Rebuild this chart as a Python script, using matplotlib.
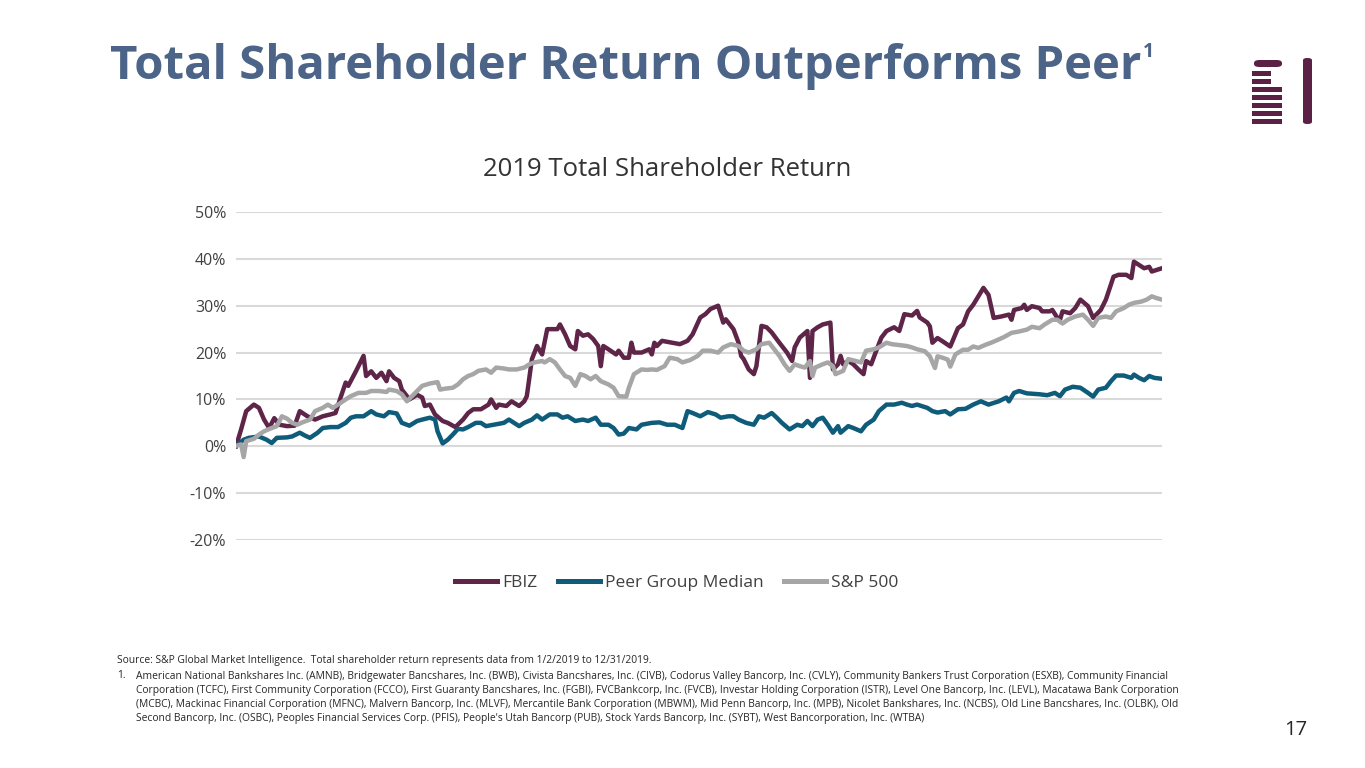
import matplotlib
matplotlib.use('Agg')
import matplotlib.pyplot as plt
from matplotlib.patches import Rectangle, FancyBboxPatch

# day of year (0 = 1/2/2019) and total return in %
fbiz_days = [0, 2, 4, 7, 9, 11, 13, 15, 17, 20, 23, 25, 28, 31, 34, 37, 39, 41, 43, 44,
             47, 50, 51, 53, 55, 57, 59, 60, 62, 64, 65, 68, 71, 73, 74, 76, 78, 81, 83, 86,
             89, 91, 93, 96, 99, 100, 102, 103, 106, 108, 111, 113, 114, 116, 118, 120, 122, 126, 127, 129,
             131, 133, 134, 136, 138, 140, 142, 143, 144, 146, 149, 150, 152, 154, 155, 156, 159, 162, 163, 164,
             165, 167, 171, 174, 177, 179, 182, 184, 186, 189, 191, 192, 195, 197, 198, 199, 201, 203, 204, 206,
             208, 210, 213, 216, 218, 219, 221, 224, 225, 226, 228, 230, 233, 234, 236, 237, 238, 240, 242, 244,
             246, 247, 249, 251, 253, 255, 258, 260, 262, 265, 267, 268, 271, 272, 273, 275, 277, 280, 283, 285,
             287, 289, 291, 293, 295, 297, 300, 303, 304, 305, 308, 309, 310, 312, 315, 316, 319, 320, 322, 323,
             324, 327, 329, 331, 334, 336, 339, 341, 344, 346, 349, 351, 352, 354, 356, 358, 359, 363]
fbiz_vals = [0.0, 3.6, 7.5, 8.9, 8.2, 5.7, 3.9, 6.0, 4.6, 4.3, 4.4, 7.5, 6.4, 5.7, 6.4, 6.8, 7.1, 10.4, 13.6, 12.9,
             16.0, 19.3, 15.0, 16.0, 14.6, 15.7, 13.9, 16.0, 14.6, 13.9, 12.1, 10.0, 11.0, 10.4, 8.6, 8.9, 6.8, 5.4, 5.0, 4.1,
             5.7, 7.1, 7.9, 7.9, 8.9, 10.0, 8.2, 8.9, 8.6, 9.6, 8.6, 9.6, 10.7, 18.6, 21.4, 19.6, 25.0, 25.0, 26.0, 23.9,
             21.4, 20.7, 24.6, 23.6, 23.9, 22.9, 21.4, 17.1, 21.4, 20.7, 19.6, 20.4, 18.9, 18.9, 22.1, 20.0, 20.0, 20.7, 19.6, 22.1,
             21.4, 22.5, 22.1, 21.8, 22.5, 23.9, 27.5, 28.2, 29.3, 30.0, 26.4, 27.1, 25.0, 22.1, 19.3, 18.6, 16.4, 15.4, 17.1, 25.7,
             25.4, 24.3, 22.1, 20.0, 18.2, 21.1, 23.2, 24.6, 14.6, 24.6, 25.4, 26.0, 26.4, 16.4, 17.5, 19.3, 17.5, 18.2, 17.5, 16.4,
             15.4, 18.2, 17.5, 20.4, 23.2, 24.6, 25.4, 24.6, 28.2, 27.9, 28.9, 27.5, 26.4, 25.6, 22.1, 23.1, 22.4, 21.3, 25.2, 26.0,
             28.8, 30.2, 32.0, 33.8, 32.3, 27.4, 27.7, 28.1, 27.0, 29.1, 29.5, 30.2, 29.1, 29.9, 29.5, 28.8, 28.8, 29.1, 27.4, 27.0,
             28.8, 28.4, 29.5, 31.3, 29.9, 27.4, 29.1, 31.3, 36.2, 36.6, 36.6, 35.9, 39.4, 38.7, 38.0, 38.3, 37.3, 38.0]

peer_days = [0, 3, 5, 9, 12, 14, 16, 20, 22, 25, 27, 29, 32, 34, 37, 40, 43, 45, 47, 50,
             53, 55, 58, 60, 63, 65, 68, 71, 73, 76, 78, 79, 81, 83, 85, 87, 89, 91, 94, 96,
             98, 101, 105, 107, 109, 111, 113, 116, 118, 120, 123, 126, 128, 130, 133, 136, 138, 141, 143, 146,
             148, 150, 152, 154, 157, 159, 163, 166, 169, 172, 175, 177, 179, 182, 185, 188, 190, 193, 195, 197,
             200, 203, 205, 207, 210, 212, 214, 217, 220, 222, 224, 226, 228, 230, 232, 234, 236, 237, 240, 242,
             245, 247, 250, 252, 255, 258, 261, 263, 265, 267, 271, 273, 275, 278, 280, 283, 286, 289, 292, 295,
             299, 302, 303, 305, 307, 310, 315, 318, 321, 323, 325, 328, 331, 334, 336, 338, 341, 343, 345, 348,
             351, 352, 354, 356, 358, 360, 363]
peer_vals = [0.1, 1.4, 1.8, 2.1, 1.4, 0.7, 1.8, 1.9, 2.1, 2.9, 2.3, 1.8, 2.9, 3.9, 4.1, 4.1, 5.0, 6.1, 6.4, 6.4,
             7.5, 6.8, 6.4, 7.3, 7.0, 5.0, 4.4, 5.4, 5.7, 6.1, 5.7, 3.2, 0.6, 1.4, 2.5, 3.7, 3.6, 4.1, 5.0, 5.0,
             4.3, 4.6, 5.0, 5.7, 5.0, 4.3, 5.0, 5.7, 6.6, 5.7, 6.8, 6.8, 6.1, 6.4, 5.4, 5.7, 5.4, 6.1, 4.6, 4.6,
             3.9, 2.5, 2.7, 3.9, 3.6, 4.6, 5.0, 5.1, 4.6, 4.6, 3.9, 7.5, 7.1, 6.4, 7.3, 6.8, 6.1, 6.4, 6.4, 5.7,
             5.0, 4.6, 6.4, 6.1, 7.1, 6.1, 5.0, 3.6, 4.6, 4.3, 5.4, 4.3, 5.7, 6.1, 4.6, 2.9, 4.3, 2.9, 4.3, 3.9,
             3.2, 4.6, 5.7, 7.5, 8.9, 8.9, 9.3, 8.9, 8.6, 8.9, 8.2, 7.5, 7.2, 7.5, 6.8, 7.9, 8.0, 8.9, 9.6, 8.9,
             9.6, 10.4, 9.6, 11.4, 11.8, 11.3, 11.1, 10.9, 11.4, 10.7, 12.1, 12.7, 12.5, 11.4, 10.6, 12.1, 12.5, 13.9, 15.1, 15.1,
             14.6, 15.3, 14.6, 14.1, 15.0, 14.6, 14.4]

sp_days = [0, 2, 3, 4, 7, 9, 11, 14, 16, 18, 20, 22, 24, 26, 29, 31, 34, 36, 38, 40,
           43, 45, 48, 51, 53, 56, 59, 60, 63, 65, 67, 69, 71, 73, 76, 79, 80, 82, 85, 87,
           89, 91, 93, 95, 98, 100, 102, 105, 107, 110, 113, 115, 117, 120, 121, 123, 125, 127, 129, 131,
           133, 135, 137, 139, 141, 143, 146, 148, 150, 153, 154, 156, 159, 161, 163, 165, 168, 170, 173, 175,
           178, 181, 183, 186, 189, 191, 194, 197, 199, 201, 204, 206, 209, 211, 213, 215, 217, 219, 221, 223,
           225, 226, 227, 230, 232, 234, 235, 238, 240, 243, 245, 247, 250, 252, 255, 257, 260, 263, 265, 267,
           270, 272, 274, 275, 277, 279, 280, 282, 285, 287, 289, 291, 294, 296, 299, 301, 304, 307, 310, 312,
           315, 317, 320, 322, 324, 326, 329, 332, 334, 336, 338, 341, 343, 345, 348, 350, 352, 355, 357, 359,
           361, 363]
sp_vals = [0.1, 0.4, -2.3, 1.1, 1.6, 2.5, 3.2, 3.9, 4.3, 6.4, 5.9, 5.0, 4.6, 5.1, 5.7, 7.5, 8.2, 8.9, 8.2, 8.9,
           10.0, 10.7, 11.4, 11.4, 11.8, 11.8, 11.6, 12.1, 11.8, 11.1, 9.6, 10.7, 11.8, 12.9, 13.4, 13.7, 12.1, 12.3, 12.5, 13.2,
           14.3, 15.0, 15.4, 16.1, 16.4, 15.7, 16.8, 16.6, 16.4, 16.4, 16.8, 17.5, 17.9, 18.2, 17.9, 18.6, 17.9, 16.4, 15.0, 14.6,
           12.9, 15.4, 15.0, 14.3, 15.0, 13.9, 13.2, 12.5, 10.7, 10.6, 12.5, 15.4, 16.4, 16.3, 16.4, 16.3, 17.1, 18.9, 18.6, 17.9,
           18.4, 19.3, 20.4, 20.4, 20.0, 21.1, 21.8, 21.4, 20.4, 20.0, 20.7, 21.8, 22.1, 20.7, 19.3, 17.5, 16.1, 17.5, 17.1, 16.8,
           18.2, 15.0, 16.8, 17.5, 17.9, 17.1, 15.4, 16.1, 18.6, 18.2, 17.9, 20.4, 20.7, 21.1, 22.1, 21.8, 21.6, 21.4, 21.1, 20.7,
           20.3, 19.2, 16.7, 19.2, 18.9, 18.5, 17.0, 19.6, 20.6, 20.6, 21.3, 21.0, 21.7, 22.1, 22.8, 23.3, 24.2, 24.5, 24.9, 25.5,
           25.2, 26.0, 27.0, 27.0, 26.2, 27.0, 27.7, 28.1, 27.0, 25.7, 27.4, 27.7, 27.4, 28.8, 29.5, 30.2, 30.6, 30.9, 31.3, 32.0,
           31.6, 31.3]

y_ticks = [-20, -10, 0, 10, 20, 30, 40, 50]

W, H = 1365, 768


def px(x, y):
    return x / W, 1 - y / H


plt.rcParams['font.family'] = ['Open Sans', 'DejaVu Sans']
fig = plt.figure(figsize=(13.65, 7.68), dpi=100)
fig.patch.set_facecolor('white')

ax = fig.add_axes([236 / W, 1 - 540 / H, (1162 - 236) / W, (540 - 212) / H])
ax.plot(fbiz_days, fbiz_vals, color='#5e2549', lw=3.2, label='FBIZ', solid_joinstyle='round')
ax.plot(peer_days, peer_vals, color='#0f5b7a', lw=3.2, label='Peer Group Median', solid_joinstyle='round')
ax.plot(sp_days, sp_vals, color='#a6a6a6', lw=3.2, label='S&P 500', solid_joinstyle='round')
ax.set_xlim(0, 363)
ax.set_ylim(-20, 50)
ax.set_yticks(y_ticks)
ax.set_yticklabels([f'{v}%' for v in y_ticks], fontsize=11.5, color='#404040')
ax.set_xticks([])
ax.grid(axis='y', color='#d9d9d9', lw=1.5)
ax.set_axisbelow(True)
ax.tick_params(axis='y', length=0, pad=7)
for s in ax.spines.values():
    s.set_visible(False)

fig.legend(loc='center', bbox_to_anchor=px(677, 583), ncol=3, frameon=False,
           fontsize=12.5, handlelength=2.4, columnspacing=1.2, handletextpad=0.3,
           labelcolor='#404040')
for ln in fig.legends[0].get_lines():
    ln.set_linewidth(3.6)

# titles
t = fig.text(*px(110, 66), 'Total Shareholder Return Outperforms Peer', fontsize=34,
             fontweight='bold', color='#4b6487', va='center', ha='left')
fig.canvas.draw()
bb = t.get_window_extent()
fig.text(bb.x1 / W + 0.001, px(0, 52)[1], '1', fontsize=14, fontweight='bold',
         color='#4b6487', va='center', ha='left')
fig.text(*px(667, 170), '2019 Total Shareholder Return', fontsize=18.5, color='#333333',
         ha='center', va='center')

# footnotes
fn = dict(fontsize=7.42, color='#262626', va='center', ha='left')
fig.text(*px(117, 661), 'Source: S&P Global Market Intelligence.  Total shareholder return represents data from 1/2/2019 to 12/31/2019.', **fn)
fig.text(*px(117, 676), '1.', **fn)
notes = [
    'American National Bankshares Inc. (AMNB), Bridgewater Bancshares, Inc. (BWB), Civista Bancshares, Inc. (CIVB), Codorus Valley Bancorp, Inc. (CVLY), Community Bankers Trust Corporation (ESXB), Community Financial',
    'Corporation (TCFC), First Community Corporation (FCCO), First Guaranty Bancshares, Inc. (FGBI), FVCBankcorp, Inc. (FVCB), Investar Holding Corporation (ISTR), Level One Bancorp, Inc. (LEVL), Macatawa Bank Corporation',
    '(MCBC), Mackinac Financial Corporation (MFNC), Malvern Bancorp, Inc. (MLVF), Mercantile Bank Corporation (MBWM), Mid Penn Bancorp, Inc. (MPB), Nicolet Bankshares, Inc. (NCBS), Old Line Bancshares, Inc. (OLBK), Old',
    "Second Bancorp, Inc. (OSBC), Peoples Financial Services Corp. (PFIS), People's Utah Bancorp (PUB), Stock Yards Bancorp, Inc. (SYBT), West Bancorporation, Inc. (WTBA)",
]
for i, line in enumerate(notes):
    fig.text(*px(136, 676 + 14 * i), line, **fn)

fig.text(*px(1307, 730), '17', fontsize=14.5, color='#262626', ha='right', va='center')

# logo
plum = '#5a2145'
bars = [(1252, 71, 19), (1252, 79, 19), (1252, 87, 30), (1252, 95, 30),
        (1252, 103, 30), (1252, 111, 30), (1252, 119, 30)]
for bx, by, bw in bars:
    x0, y0 = px(bx, by + 4.5)
    fig.patches.append(Rectangle((x0, y0), bw / W, 4.5 / H, transform=fig.transFigure,
                                 color=plum, lw=0))
x0, y0 = px(1254, 67)
fig.patches.append(FancyBboxPatch((x0, y0), 28 / W, 7 / H, transform=fig.transFigure,
                                  boxstyle='round,pad=0,rounding_size=0.004', color=plum, lw=0))
x0, y0 = px(1303, 124)
fig.patches.append(FancyBboxPatch((x0, y0), 9 / W, 66 / H, transform=fig.transFigure,
                                  boxstyle='round,pad=0,rounding_size=0.003', color=plum, lw=0))

fig.savefig('out.png', dpi=100)
